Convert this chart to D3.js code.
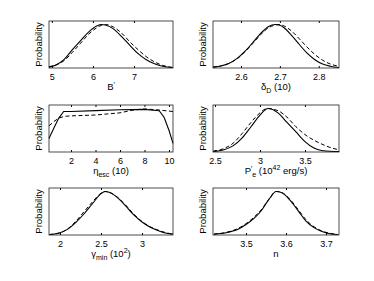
<!DOCTYPE html>
<html>
<head>
<meta charset="utf-8">
<script src="https://cdn.jsdelivr.net/npm/d3@7"></script>
<style>
  body { margin: 0; background: #fff; }
  text { font-family: "Liberation Sans", Arial, sans-serif; fill: #000; }
</style>
</head>
<body>
<div id="chart"></div>
<script>
// posterior curves (peak ~ 1)
const bSolid = [[4.93,0.02],[5.1,0.07],[5.3,0.2],[5.5,0.42],[5.7,0.63],[5.9,0.83],[6.1,0.97],[6.2,1.0],[6.3,0.99],[6.5,0.9],[6.7,0.72],[6.9,0.52],[7.1,0.33],[7.3,0.19],[7.5,0.1],[7.7,0.04],[7.95,0.01]];
const bDashed = [[4.93,0.03],[5.1,0.07],[5.3,0.17],[5.5,0.36],[5.7,0.57],[5.9,0.78],[6.1,0.93],[6.2,0.98],[6.3,1.0],[6.5,0.94],[6.7,0.8],[6.9,0.6],[7.1,0.42],[7.3,0.26],[7.5,0.14],[7.7,0.06],[7.95,0.01]];

const deltaSolid = [[2.528,0.02],[2.55,0.05],[2.57,0.11],[2.59,0.22],[2.61,0.38],[2.63,0.58],[2.65,0.79],[2.67,0.95],[2.688,1.0],[2.70,0.98],[2.71,0.93],[2.73,0.75],[2.75,0.54],[2.77,0.34],[2.79,0.19],[2.81,0.09],[2.83,0.04],[2.852,0.01]];
const deltaDashed = [[2.528,0.02],[2.55,0.05],[2.57,0.11],[2.59,0.21],[2.61,0.37],[2.63,0.56],[2.65,0.76],[2.67,0.92],[2.69,0.99],[2.70,1.0],[2.71,0.97],[2.73,0.85],[2.75,0.67],[2.77,0.48],[2.79,0.31],[2.81,0.18],[2.83,0.09],[2.852,0.04]];

const etaSolid = [[0.2,0.31],[0.6,0.55],[1.0,0.78],[1.4,0.93],[2,0.93],[4,0.95],[6,0.97],[8,0.98],[9.2,0.95],[9.6,0.8],[10.0,0.5],[10.33,0.2]];
const etaDashed = [[0.2,0.6],[0.6,0.7],[1.0,0.78],[1.5,0.82],[2,0.83],[4,0.85],[6,0.9],[7,0.96],[8,0.99],[9,0.97],[10.33,0.93]];

const peSolid = [[2.48,0.01],[2.6,0.05],[2.7,0.14],[2.8,0.32],[2.9,0.58],[3.0,0.85],[3.09,1.0],[3.2,0.9],[3.3,0.68],[3.4,0.46],[3.5,0.24],[3.6,0.09],[3.7,0.03],[3.88,0.01]];
const peDashed = [[2.48,0.02],[2.6,0.08],[2.7,0.2],[2.8,0.42],[2.9,0.68],[3.0,0.9],[3.08,1.0],[3.2,0.95],[3.3,0.8],[3.4,0.58],[3.5,0.4],[3.6,0.27],[3.7,0.17],[3.8,0.09],[3.88,0.05]];

const gammaSolid = [[1.87,0.01],[2.0,0.05],[2.1,0.14],[2.2,0.3],[2.3,0.5],[2.4,0.73],[2.5,0.95],[2.55,1.0],[2.6,0.98],[2.7,0.86],[2.8,0.67],[2.9,0.46],[3.0,0.3],[3.1,0.18],[3.2,0.1],[3.3,0.04],[3.378,0.02]];
const gammaDashed = [[1.87,0.01],[2.0,0.05],[2.1,0.15],[2.2,0.33],[2.3,0.55],[2.4,0.77],[2.5,0.96],[2.55,1.0],[2.6,0.98],[2.7,0.87],[2.8,0.69],[2.9,0.48],[3.0,0.31],[3.1,0.19],[3.2,0.11],[3.3,0.05],[3.378,0.02]];

const nSolid = [[3.42,0.02],[3.45,0.05],[3.48,0.13],[3.5,0.24],[3.52,0.38],[3.54,0.58],[3.55,0.72],[3.56,0.85],[3.575,1.0],[3.59,0.97],[3.61,0.8],[3.63,0.56],[3.65,0.32],[3.67,0.17],[3.69,0.08],[3.71,0.03],[3.73,0.01]];
const nDashed = [[3.42,0.02],[3.45,0.06],[3.48,0.15],[3.5,0.26],[3.52,0.41],[3.54,0.6],[3.55,0.73],[3.56,0.86],[3.575,1.0],[3.59,0.97],[3.61,0.82],[3.63,0.59],[3.65,0.35],[3.67,0.19],[3.69,0.09],[3.71,0.04],[3.73,0.01]];

// axis ranges and tick labels
const domains = [[4.93, 7.95], [2.528, 2.852], [0.2, 10.33], [2.478, 3.878], [1.866, 3.378], [3.4175, 3.7325]];
const ticks = [[5, 6, 7], [2.6, 2.7, 2.8], [2, 4, 6, 8, 10], [2.5, 3, 3.5], [2, 2.5, 3], [3.5, 3.6, 3.7]];

// x labels: [text, shift] 0 = normal, <0 = superscript, >0 = subscript
const xLabels = [
  [["B", 0], ["\u2032", -3]],
  [["\u03b4", 0], ["D", 3], [" (10)", 0]],
  [["\u03b7", 0], ["esc", 3], [" (10)", 0]],
  [["P", 0], ["\u2032", -3], ["e", 3], [" (10", 0], ["42", -4], [" erg/s)", 0]],
  [["\u03b3", 0], ["min", 3], [" (10", 0], ["2", -4], [")", 0]],
  [["n", 0]]
];

const solids = [bSolid, deltaSolid, etaSolid, peSolid, gammaSolid, nSolid];
const dashes = [bDashed, deltaDashed, etaDashed, peDashed, gammaDashed, nDashed];

const svg = d3.select("#chart").append("svg")
  .attr("width", 374)
  .attr("height", 281);

const colX = [49, 213], colW = [124, 126];
const rowY = [21, 105, 188], ph = 47;

function addLabel(g, parts, xc, yb) {
  const t = g.append("text")
    .attr("x", xc)
    .attr("y", yb)
    .attr("text-anchor", "middle")
    .attr("font-size", 9.5);
  let cur = 0;
  parts.forEach(([s, shift]) => {
    t.append("tspan")
      .attr("dy", shift - cur)
      .attr("font-size", shift ? 7 : 9.5)
      .text(s);
    cur = shift;
  });
}

domains.forEach((dom, i) => {
  const w = colW[i % 2];
  const g = svg.append("g")
    .attr("transform", "translate(" + colX[i % 2] + "," + rowY[Math.floor(i / 2)] + ")");

  const x = d3.scaleLinear().domain(dom).range([0, w]);
  const y = d3.scaleLinear().domain([0, 1.08]).range([ph, 0]);

  const line = d3.line()
    .x(d => x(d[0]))
    .y(d => y(d[1]))
    .curve(i === 2 ? d3.curveLinear : d3.curveMonotoneX);

  g.append("path")
    .datum(dashes[i])
    .attr("d", line)
    .attr("fill", "none")
    .attr("stroke", "#000")
    .attr("stroke-width", 1)
    .attr("stroke-dasharray", "4,2.5");

  g.append("path")
    .datum(solids[i])
    .attr("d", line)
    .attr("fill", "none")
    .attr("stroke", "#000")
    .attr("stroke-width", 1.1);

  // bottom axis, ticks inward
  const bottom = g.append("g")
    .attr("transform", "translate(0," + ph + ")")
    .call(d3.axisBottom(x).tickValues(ticks[i]).tickSize(-2).tickSizeOuter(0).tickPadding(6).tickFormat(d3.format("~g")));
  bottom.select(".domain").remove();
  bottom.selectAll("text").attr("font-size", 9).attr("font-family", null);

  const top = g.append("g")
    .call(d3.axisTop(x).tickValues(ticks[i]).tickSize(-2).tickSizeOuter(0).tickFormat(""));
  top.select(".domain").remove();

  g.append("rect")
    .attr("width", w)
    .attr("height", ph)
    .attr("fill", "none")
    .attr("stroke", "#222")
    .attr("stroke-width", 0.8);

  g.append("text")
    .attr("transform", "translate(-7.5," + (ph / 2) + ") rotate(-90)")
    .attr("text-anchor", "middle")
    .attr("font-size", 9.5)
    .text("Probability");

  addLabel(g, xLabels[i], w / 2, ph + 22);
});
</script>
</body>
</html>
